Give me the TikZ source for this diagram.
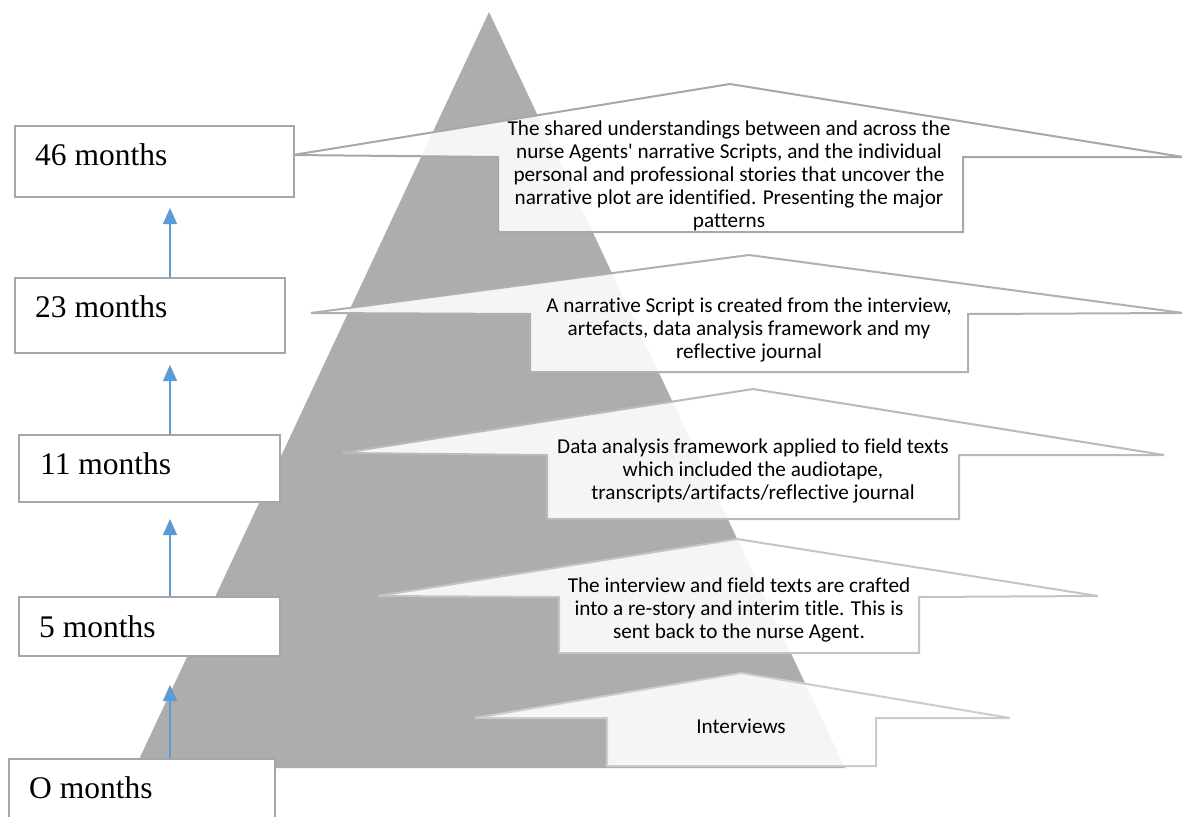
\documentclass[tikz,border=0pt]{standalone}
\usepackage{fontspec}
\setmainfont{Liberation Serif}
\newfontfamily\calib[Ligatures={NoCommon}]{Carlito}
\usetikzlibrary{arrows.meta}
\definecolor{tri}{RGB}{173,173,173}
\definecolor{boxline}{RGB}{166,166,166}
\definecolor{conn}{RGB}{91,155,213}
\definecolor{ol1}{RGB}{168,168,168}
\definecolor{ol2}{RGB}{176,176,176}
\definecolor{ol3}{RGB}{186,186,186}
\definecolor{ol4}{RGB}{196,196,196}
\definecolor{ol5}{RGB}{204,204,204}
\begin{document}
\begin{tikzpicture}[x=1pt,y=-1pt,
  monthbox/.style={draw=boxline,line width=1.5pt,fill=white,inner sep=0pt,anchor=north west},
  monthtext/.style={anchor=base west,inner sep=0pt,font=\fontsize{31.5}{36}\selectfont},
  callout/.style={line width=2pt,fill=white,fill opacity=0.88,line join=miter},
  callouttext/.style={anchor=base,inner sep=0pt,align=center,font=\calib\fontsize{21.2}{23}\selectfont},
  timeline/.style={draw=conn,line width=1.2pt,-{Triangle[width=14pt,length=16pt]}}]
\useasboundingbox (0,0) rectangle (1182,816);
\fill[white] (0,0) rectangle (1182,816);
% pyramid
\fill[tri] (489,12) -- (845,768) -- (135,768) -- cycle;
% month boxes
\node[monthbox,minimum width=279pt,minimum height=71pt] (b46) at (14,125) {};
\node[monthbox,minimum width=270pt,minimum height=75pt] (b23) at (14,277) {};
\node[monthbox,minimum width=261pt,minimum height=67pt] (b11) at (18,434) {};
\node[monthbox,minimum width=261pt,minimum height=59pt] (b5) at (18,596) {};
\node[monthbox,minimum width=266pt,minimum height=72pt] (b0) at (8,758) {};
\node[monthtext] (l46) at (35,165) {46 months};
\node[monthtext] (l23) at (35,317) {23 months};
\node[monthtext] (l11) at (40,474) {11 months};
\node[monthtext] (l5) at (39,637) {5 months};
\node[monthtext] (l0) at (29,798) {O months};
% timeline connectors
\coordinate (t46) at (170,208);
\coordinate (t23) at (170,365);
\coordinate (t11) at (170,519);
\coordinate (t5) at (170,685);
\draw[timeline] (b23.north -| t46) -- (t46);
\draw[timeline] (b11.north -| t23) -- (t23);
\draw[timeline] (b5.north -| t11) -- (t11);
\draw[timeline] (b0.north -| t5) -- (t5);
% callout arrows
\draw[callout,draw=ol1] (293,155) -- (730,84) -- (1183,157) -- (963,157) -- (963,232) -- (498,232) -- (498,157) -- cycle;
\draw[callout,draw=ol2] (311,313) -- (749,255) -- (1183,313) -- (968,314) -- (968,372) -- (530,372) -- (530,314) -- cycle;
\draw[callout,draw=ol3] (342,453) -- (753,389) -- (1164,455) -- (959,455) -- (959,519) -- (547,519) -- (547,455) -- cycle;
\draw[callout,draw=ol4] (378,596) -- (737,539) -- (1098,596) -- (919,597) -- (919,653) -- (559,653) -- (559,597) -- cycle;
\draw[callout,draw=ol5] (475,718) -- (741,673) -- (1010,718) -- (876,718) -- (876,766) -- (607,766) -- (607,718) -- cycle;
% callout texts
\node[callouttext] (c46) at (729,227) {The shared understandings between and across the\\nurse Agents' narrative Scripts, and the individual\\personal and professional stories that uncover the\\narrative plot are identified. Presenting the major\\patterns};
\node[callouttext] (c23) at (749,358) {A narrative Script is created from the interview,\\artefacts, data analysis framework and my\\reflective journal};
\node[callouttext] (c11) at (753,499) {Data analysis framework applied to field texts\\which included the audiotape,\\transcripts/artifacts/reflective journal};
\node[callouttext] (c5) at (739,638) {The interview and field texts are crafted\\into a re-story and interim title. This is\\sent back to the nurse Agent.};
\node[callouttext] (c0) at (741,733) {Interviews};
\end{tikzpicture}
\end{document}
